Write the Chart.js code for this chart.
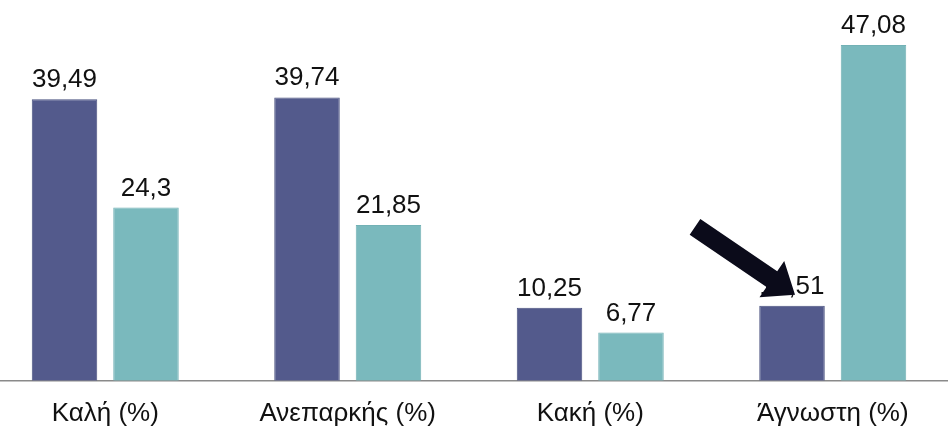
<!DOCTYPE html>
<html>
<head>
<meta charset="utf-8">
<script src="https://cdn.jsdelivr.net/npm/chart.js@4"></script>
<style>
  html, body { margin: 0; padding: 0; background: #fff; overflow: hidden; }
  body { width: 948px; height: 426px; position: relative; }
  #wrap { position: absolute; left: -16px; top: 0; width: 970px; height: 446px; }
</style>
</head>
<body>
<div id="wrap"><canvas id="chart"></canvas></div>
<script>
const categories = ["Καλή (%)", "Ανεπαρκής (%)", "Κακή (%)", "Άγνωστη (%)"];
const seriesA = [39.49, 39.74, 10.25, 10.51];
const seriesB = [24.3, 21.85, 6.77, 47.08];

const FONT = '"Liberation Sans", Arial, sans-serif';
const fmt = (v) => String(v).replace(".", ",");

// value labels above each bar
const valueLabels = {
  id: "valueLabels",
  afterDatasetsDraw(chart) {
    const { ctx } = chart;
    ctx.save();
    ctx.font = `26px ${FONT}`;
    ctx.fillStyle = "#111";
    ctx.textAlign = "center";
    ctx.textBaseline = "alphabetic";
    chart.data.datasets.forEach((ds, i) => {
      chart.getDatasetMeta(i).data.forEach((bar, j) => {
        ctx.fillText(fmt(ds.data[j]), bar.x, bar.y - 12);
      });
    });
    ctx.restore();
  },
};

// the black pointer arrow onto the last dark bar
const pointer = {
  id: "pointer",
  afterDraw(chart) {
    const bar = chart.getDatasetMeta(0).data[3];
    if (!bar) return;
    const { ctx } = chart;
    const tipX = bar.x + 3, tipY = bar.y - 11;
    const tailX = tipX - 100, tailY = tipY - 68;
    const ang = Math.atan2(tipY - tailY, tipX - tailX);
    const headLen = 28, headHalf = 22, shaftHalf = 9.5;
    const bx = tipX - headLen * Math.cos(ang), by = tipY - headLen * Math.sin(ang);
    const px = -Math.sin(ang), py = Math.cos(ang);
    ctx.save();
    ctx.fillStyle = "#0b0b1a";
    ctx.beginPath();
    ctx.moveTo(tailX + px * shaftHalf, tailY + py * shaftHalf);
    ctx.lineTo(bx + px * shaftHalf, by + py * shaftHalf);
    ctx.lineTo(bx + px * headHalf, by + py * headHalf);
    ctx.lineTo(tipX, tipY);
    ctx.lineTo(bx - px * headHalf, by - py * headHalf);
    ctx.lineTo(bx - px * shaftHalf, by - py * shaftHalf);
    ctx.lineTo(tailX - px * shaftHalf, tailY - py * shaftHalf);
    ctx.closePath();
    ctx.fill();
    ctx.restore();
  },
};

new Chart(document.getElementById("chart"), {
  type: "bar",
  data: {
    labels: categories,
    datasets: [
      {
        data: seriesA,
        backgroundColor: "#535a8c",
        borderColor: "#48507f",
        borderWidth: 1,
        categoryPercentage: 0.672,
        barPercentage: 0.804,
      },
      {
        data: seriesB,
        backgroundColor: "#7ab9bd",
        borderColor: "#72b1b5",
        borderWidth: 1,
        categoryPercentage: 0.672,
        barPercentage: 0.804,
      },
    ],
  },
  options: {
    responsive: true,
    maintainAspectRatio: false,
    animation: false,
    layout: { padding: 0 },
    plugins: { legend: { display: false }, tooltip: { enabled: false } },
    scales: {
      x: {
        grid: { display: false, drawTicks: false },
        border: { color: "#8a8a8a", width: 1.5 },
        ticks: { color: "#111", font: { family: FONT, size: 26 }, padding: 17 },
      },
      y: { display: false, min: 0, max: 53.4 },
    },
  },
  plugins: [valueLabels, pointer],
});
</script>
</body>
</html>
